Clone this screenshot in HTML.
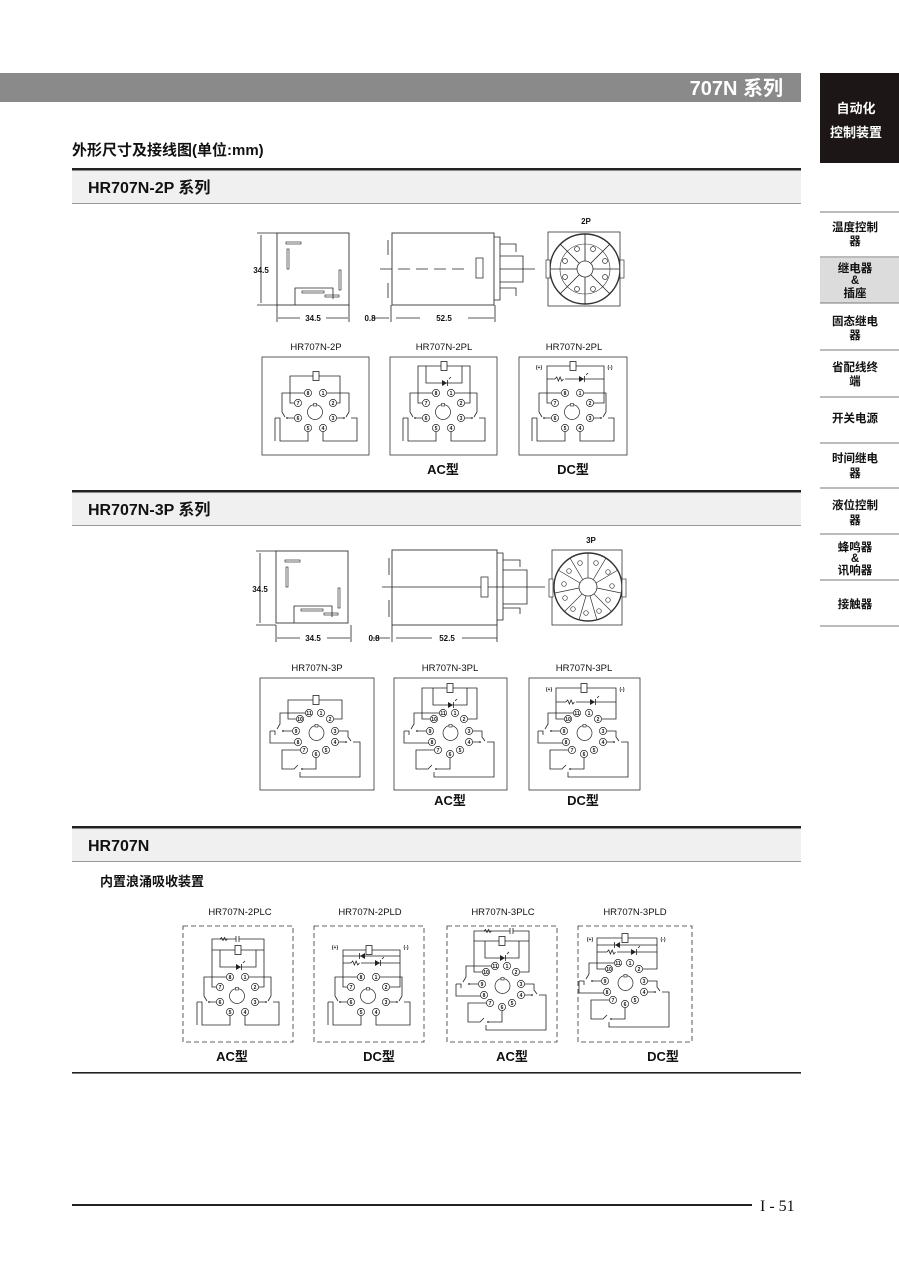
<!DOCTYPE html>
<html><head><meta charset="utf-8">
<style>
html,body{margin:0;padding:0;background:#fff;}
body{width:899px;height:1264px;overflow:hidden;position:relative;font-family:"Liberation Sans","Noto Sans CJK SC",sans-serif;}
svg{position:absolute;left:0;top:0;}
.w{fill:none;stroke:#222;stroke-width:0.8;}
.pc{fill:#fff;stroke:#222;stroke-width:0.7;}
.pn{font-family:"Liberation Sans",sans-serif;font-size:5px;font-weight:bold;text-anchor:middle;fill:#111;}
.lbl{font-family:"Liberation Sans",sans-serif;font-size:9.5px;text-anchor:middle;fill:#111;}
.dim{font-family:"Liberation Sans",sans-serif;font-size:8px;font-weight:bold;text-anchor:middle;fill:#111;}
.ty{font-family:"Liberation Sans","Noto Sans CJK SC",sans-serif;font-size:13px;font-weight:bold;text-anchor:middle;fill:#111;}
.side{font-family:"Liberation Sans","Noto Sans CJK SC",sans-serif;font-size:11.5px;font-weight:bold;text-anchor:middle;fill:#111;}
.box{fill:none;stroke:#333;stroke-width:0.8;}
.dbox{fill:none;stroke:#333;stroke-width:0.8;stroke-dasharray:5,3;}
.pm{font-family:"Liberation Sans",sans-serif;font-size:5px;font-weight:bold;text-anchor:middle;fill:#111;}
</style></head><body>
<svg width="899" height="1264" viewBox="0 0 899 1264" xmlns="http://www.w3.org/2000/svg">
<defs>
 <g id="p8">
  <circle class="pc" cx="53" cy="55" r="7.5"/>
  <rect x="51.5" y="46.5" width="3" height="2.5" fill="#fff" stroke="#222" stroke-width="0.6"/>
  <circle class="pc" cx="46" cy="36" r="3.6"/><circle class="pc" cx="61" cy="36" r="3.6"/>
  <circle class="pc" cx="36" cy="46" r="3.6"/><circle class="pc" cx="71" cy="46" r="3.6"/>
  <circle class="pc" cx="36" cy="61" r="3.6"/><circle class="pc" cx="71" cy="61" r="3.6"/>
  <circle class="pc" cx="46" cy="71" r="3.6"/><circle class="pc" cx="61" cy="71" r="3.6"/>
  <path class="w" d="M42.4,36 H20 V55 M20,55 L23,60 M32.4,61 H25 M13,61 H18 V84 H46 V74.6 M13,61 V84"/>
  <path class="w" d="M64.6,36 H87 V55 M87,55 L84,60 M74.6,61 H82 M89,61 H95 V84 H61 V74.6"/>
  <circle cx="25" cy="61" r="0.9" fill="#222"/><circle cx="82" cy="61" r="0.9" fill="#222"/>
 </g>
 <g id="p11">
  <circle class="pc" cx="54.5" cy="56" r="7.5"/>
  <rect x="53" y="47.5" width="3" height="2.5" fill="#fff" stroke="#222" stroke-width="0.6"/>
  <circle class="pc" cx="47" cy="36" r="3.6"/><circle class="pc" cx="59" cy="36" r="3.6"/>
  <circle class="pc" cx="38" cy="42" r="3.6"/><circle class="pc" cx="68" cy="42" r="3.6"/>
  <circle class="pc" cx="34" cy="54" r="3.6"/><circle class="pc" cx="73" cy="54" r="3.6"/>
  <circle class="pc" cx="36" cy="65" r="3.6"/><circle class="pc" cx="73" cy="65" r="3.6"/>
  <circle class="pc" cx="42" cy="73" r="3.6"/><circle class="pc" cx="64" cy="73" r="3.6"/>
  <circle class="pc" cx="54" cy="77" r="3.6"/>
  <path class="w" d="M43.4,36 H18 V47 L15,52 M30.4,54 H21 M8,54 H13 V58 M8,54 V66 H32.4"/>
  <path class="w" d="M76.6,54 H86 V60 L89,64 M76.6,65 H84 M91,65 H98 V100 H38 V95"/>
  <path class="w" d="M38.4,73 H20 V92 H32 L36,88 M54,80.6 V92 H40"/>
  <circle cx="21" cy="54" r="0.9" fill="#222"/><circle cx="84" cy="65" r="0.9" fill="#222"/><circle cx="40" cy="92" r="0.9" fill="#222"/>
 </g>
 <g id="coilA8"><path class="w" d="M32.4,46 H28 V19 H78 V46 H74.6"/><rect x="51" y="14.5" width="6" height="9" fill="#fff" stroke="#222" stroke-width="0.8"/></g>
 <g id="coilL8"><path class="w" d="M32.4,46 H28 V9 H80 V46 H74.6 M36,9 V26 H72 V9"/><rect x="51" y="4.5" width="6" height="9" fill="#fff" stroke="#222" stroke-width="0.8"/><path d="M52,23 L52,29 L57,26 Z" fill="#222"/><path class="w" d="M57.5,23 V29 M59,22 L61,20"/></g>
 <g id="coilD8"><path class="w" d="M32.4,46 H28 V9 H85 V46 H74.6 M28,22 H85"/><rect x="51" y="4.5" width="6" height="9" fill="#fff" stroke="#222" stroke-width="0.8"/><rect x="36" y="20.5" width="10" height="3" fill="#fff"/><path class="w" d="M36,22 l1.7,-2 l1.7,4 l1.7,-4 l1.7,4 l1.7,-2"/><path d="M60,19 L60,25 L65,22 Z" fill="#222"/><path class="w" d="M65.5,19 V25 M67,18 L69,16"/></g>
 <g id="coilA11"><path class="w" d="M34.4,42 H26 V23 H80 V42 H71.6"/><rect x="51" y="18.5" width="6" height="9" fill="#fff" stroke="#222" stroke-width="0.8"/></g>
 <g id="coilL11"><path class="w" d="M34.4,42 H26 V11 H81 V42 H71.6 M37,11 V28 H71 V11"/><rect x="51" y="6.5" width="6" height="9" fill="#fff" stroke="#222" stroke-width="0.8"/><path d="M52,25 L52,31 L57,28 Z" fill="#222"/><path class="w" d="M57.5,25 V31 M59,24 L61,22"/></g>
 <g id="coilD11"><path class="w" d="M34.4,42 H26 V11 H86 V42 H71.6 M26,25 H86"/><rect x="51" y="6.5" width="6" height="9" fill="#fff" stroke="#222" stroke-width="0.8"/><rect x="36" y="23.5" width="10" height="3" fill="#fff"/><path class="w" d="M36,25 l1.7,-2 l1.7,4 l1.7,-4 l1.7,4 l1.7,-2"/><path d="M60,22 L60,28 L65,25 Z" fill="#222"/><path class="w" d="M65.5,22 V28 M67,21 L69,19"/></g>
 <g id="front">
  <rect x="0" y="0" width="72" height="72" fill="none" stroke="#333" stroke-width="0.9"/>
  <rect x="9" y="9" width="15" height="2" fill="none" stroke="#333" stroke-width="0.7"/>
  <rect x="10" y="16" width="2" height="20" fill="none" stroke="#333" stroke-width="0.7"/>
  <rect x="62" y="37" width="2" height="20" fill="none" stroke="#333" stroke-width="0.7"/>
  <path class="w" d="M18,72 V55 H56 V66"/>
  <rect x="25" y="58" width="22" height="2" fill="none" stroke="#333" stroke-width="0.7"/>
  <rect x="48" y="62" width="14" height="2" fill="none" stroke="#333" stroke-width="0.7"/>
 </g>
</defs>

<rect x="0" y="73" width="801" height="29" fill="#8a8a8a"/>
<text x="783" y="95" font-size="20" font-weight="bold" fill="#fff" text-anchor="end" style="font-family:'Liberation Sans','Noto Sans CJK SC',sans-serif">707N 系列</text>
<rect x="820" y="73" width="79" height="90" fill="#1c1716"/>
<text x="856" y="113" class="side" style="fill:#fff;font-size:13px">自动化</text>
<text x="856" y="137" class="side" style="fill:#fff;font-size:13px">控制装置</text>

<text x="72" y="155" font-size="15" font-weight="bold" fill="#111" style="font-family:'Liberation Sans','Noto Sans CJK SC',sans-serif">外形尺寸及接线图(单位:mm)</text>

<rect x="72" y="170" width="729" height="33" fill="#f0f0f0"/>
<rect x="72" y="168" width="729" height="2.5" fill="#222"/>
<rect x="72" y="203" width="729" height="1" fill="#999"/>
<text x="88" y="193" font-size="16" font-weight="bold" fill="#111" style="font-family:'Liberation Sans','Noto Sans CJK SC',sans-serif">HR707N-2P 系列</text>

<rect x="72" y="492" width="729" height="33" fill="#f0f0f0"/>
<rect x="72" y="490" width="729" height="2.5" fill="#222"/>
<rect x="72" y="525" width="729" height="1" fill="#999"/>
<text x="88" y="515" font-size="16" font-weight="bold" fill="#111" style="font-family:'Liberation Sans','Noto Sans CJK SC',sans-serif">HR707N-3P 系列</text>

<rect x="72" y="828" width="729" height="33" fill="#f0f0f0"/>
<rect x="72" y="826" width="729" height="2.5" fill="#222"/>
<rect x="72" y="861" width="729" height="1" fill="#999"/>
<text x="88" y="851" font-size="16" font-weight="bold" fill="#111" style="font-family:'Liberation Sans','Noto Sans CJK SC',sans-serif">HR707N</text>

<rect x="820" y="258" width="79" height="45" fill="#dcdcdc"/>
<g fill="none" stroke="#777" stroke-width="1">
<path d="M820,212 H899 M820,257 H899 M820,303 H899 M820,350 H899 M820,397 H899 M820,443 H899 M820,488 H899 M820,534 H899 M820,580 H899 M820,626 H899"/>
</g>
<text class="side" x="855" y="231">温度控制</text><text class="side" x="855" y="245">器</text>
<text class="side" x="855" y="272">继电器</text><text class="side" x="855" y="284">&amp;</text><text class="side" x="855" y="297">插座</text>
<text class="side" x="855" y="325">固态继电</text><text class="side" x="855" y="339">器</text>
<text class="side" x="855" y="371">省配线终</text><text class="side" x="855" y="385">端</text>
<text class="side" x="855" y="422">开关电源</text>
<text class="side" x="855" y="462">时间继电</text><text class="side" x="855" y="477">器</text>
<text class="side" x="855" y="509">液位控制</text><text class="side" x="855" y="524">器</text>
<text class="side" x="855" y="551">蜂鸣器</text><text class="side" x="855" y="562">&amp;</text><text class="side" x="855" y="574">讯响器</text>
<text class="side" x="855" y="608">接触器</text>

<use href="#front" x="277" y="233"/>
<path class="w" d="M257,233 H277 M257,305 H277 M261,235 V303 M277,305 V322 M349,305 V322 M278,318 H300 M326,318 H348"/>
<text class="dim" x="261" y="273">34.5</text>
<text class="dim" x="313" y="321">34.5</text>
<rect x="392" y="233" width="102" height="72" fill="none" stroke="#333" stroke-width="0.9"/>
<path class="w" d="M388,240 V255 M388,283 V298 M391,305 V322 M495,305 V322 M380,269 H392 M398,269 H410 M416,269 H428 M434,269 H446 M452,269 H464 M500,269 H535 M494,237 H500 V300 H494"/>
<rect x="476" y="258" width="7" height="20" fill="#fff" stroke="#333" stroke-width="0.8"/>
<path class="w" d="M500,244 H516 V252 M500,256 H523 V282 H500 M500,288 H516 V296"/>
<path class="w" d="M372,318 H389 M396,318 H420 M468,318 H494"/>
<text class="dim" x="370" y="321">0.8</text><text class="dim" x="444" y="321">52.5</text>
<text class="dim" x="586" y="224">2P</text>
<rect x="548" y="232" width="72" height="74" fill="none" stroke="#333" stroke-width="0.8"/>
<circle cx="585" cy="269" r="35" fill="none" stroke="#333" stroke-width="1.4"/>
<circle cx="585" cy="269" r="25" fill="none" stroke="#333" stroke-width="0.6"/>
<circle cx="585" cy="269" r="8" fill="#fff" stroke="#333" stroke-width="0.8"/>
<path class="w" d="M585,234 V261 M585,277 V304 M550,269 H577 M593,269 H620 M560,244 L579,263 M610,244 L591,263 M560,294 L579,275 M610,294 L591,275"/>
<rect x="546" y="260" width="4" height="18" fill="#fff" stroke="#333" stroke-width="0.7"/>
<rect x="620" y="260" width="4" height="18" fill="#fff" stroke="#333" stroke-width="0.7"/>
<g fill="#fff" stroke="#333" stroke-width="0.7"><circle cx="577" cy="249" r="2.5"/><circle cx="593" cy="249" r="2.5"/><circle cx="565" cy="261" r="2.5"/><circle cx="605" cy="261" r="2.5"/><circle cx="565" cy="277" r="2.5"/><circle cx="605" cy="277" r="2.5"/><circle cx="577" cy="289" r="2.5"/><circle cx="593" cy="289" r="2.5"/></g>

<text class="lbl" x="316" y="350">HR707N-2P</text>
<text class="lbl" x="444" y="350">HR707N-2PL</text>
<text class="lbl" x="574" y="350">HR707N-2PL</text>
<rect class="box" x="262" y="357" width="107" height="98"/>
<rect class="box" x="390" y="357" width="107" height="98"/>
<rect class="box" x="519" y="357" width="108" height="98"/>

<g transform="translate(262,357)"><use href="#coilA8"/><use href="#p8"/>
<text class="pn" x="46" y="37.8">8</text><text class="pn" x="61" y="37.8">1</text><text class="pn" x="36" y="47.8">7</text><text class="pn" x="71" y="47.8">2</text><text class="pn" x="36" y="62.8">6</text><text class="pn" x="71" y="62.8">3</text><text class="pn" x="46" y="72.8">5</text><text class="pn" x="61" y="72.8">4</text></g>
<g transform="translate(390,357)"><use href="#coilL8"/><use href="#p8"/>
<text class="pn" x="46" y="37.8">8</text><text class="pn" x="61" y="37.8">1</text><text class="pn" x="36" y="47.8">7</text><text class="pn" x="71" y="47.8">2</text><text class="pn" x="36" y="62.8">6</text><text class="pn" x="71" y="62.8">3</text><text class="pn" x="46" y="72.8">5</text><text class="pn" x="61" y="72.8">4</text></g>
<g transform="translate(519,357)"><use href="#coilD8"/><use href="#p8"/>
<text class="pm" x="20" y="12">(+)</text><text class="pm" x="91" y="12">(-)</text>
<text class="pn" x="46" y="37.8">8</text><text class="pn" x="61" y="37.8">1</text><text class="pn" x="36" y="47.8">7</text><text class="pn" x="71" y="47.8">2</text><text class="pn" x="36" y="62.8">6</text><text class="pn" x="71" y="62.8">3</text><text class="pn" x="46" y="72.8">5</text><text class="pn" x="61" y="72.8">4</text></g>
<text class="ty" x="443" y="474">AC型</text>
<text class="ty" x="573" y="474">DC型</text>

<use href="#front" x="276" y="551"/>
<path class="w" d="M256,551 H276 M256,625 H276 M260,553 V623 M276,625 V642 M351,625 V642 M277,638 H300 M327,638 H350"/>
<text class="dim" x="260" y="592">34.5</text>
<text class="dim" x="313" y="641">34.5</text>
<rect x="392" y="550" width="105" height="75" fill="none" stroke="#333" stroke-width="0.9"/>
<path class="w" d="M389,558 V575 M389,600 V617 M392,625 V642 M497,625 V642 M382,587 H545 M497,553 H503 V620 H497"/>
<rect x="481" y="577" width="7" height="20" fill="#fff" stroke="#333" stroke-width="0.8"/>
<path class="w" d="M503,560 H520 V567 M503,570 H527 V604 H503 M503,608 H520 V614"/>
<path class="w" d="M372,638 H390 M396,638 H432 M462,638 H497"/>
<text class="dim" x="374" y="641">0.8</text><text class="dim" x="447" y="641">52.5</text>
<text class="dim" x="591" y="543">3P</text>
<rect x="552" y="550" width="70" height="75" fill="none" stroke="#333" stroke-width="0.8"/>
<circle cx="588" cy="587" r="34" fill="none" stroke="#333" stroke-width="1.4"/>
<circle cx="588" cy="587" r="9" fill="#fff" stroke="#333" stroke-width="0.8"/>
<g stroke="#333" stroke-width="0.7">
<path d="M588,553 V578 M606,558 L593,580 M618,570 L596,583 M621,593 L597,588 M612,612 L594,594 M597,620 L590,596 M579,620 L586,596 M564,612 L582,594 M555,593 L579,588 M558,570 L580,583 M570,558 L583,580"/>
</g>
<g fill="#fff" stroke="#333" stroke-width="0.7"><circle cx="596" cy="563" r="2.3"/><circle cx="608" cy="572" r="2.3"/><circle cx="612" cy="586" r="2.3"/><circle cx="608" cy="600" r="2.3"/><circle cx="599" cy="611" r="2.3"/><circle cx="586" cy="613" r="2.3"/><circle cx="573" cy="609" r="2.3"/><circle cx="565" cy="598" r="2.3"/><circle cx="564" cy="584" r="2.3"/><circle cx="569" cy="571" r="2.3"/><circle cx="580" cy="563" r="2.3"/></g>
<rect x="549" y="579" width="4" height="18" fill="#fff" stroke="#333" stroke-width="0.7"/>
<rect x="622" y="579" width="4" height="18" fill="#fff" stroke="#333" stroke-width="0.7"/>

<text class="lbl" x="317" y="671">HR707N-3P</text>
<text class="lbl" x="450" y="671">HR707N-3PL</text>
<text class="lbl" x="584" y="671">HR707N-3PL</text>
<rect class="box" x="260" y="678" width="114" height="112"/>
<rect class="box" x="394" y="678" width="113" height="112"/>
<rect class="box" x="529" y="678" width="111" height="112"/>

<g transform="translate(262,677)"><use href="#coilA11"/><use href="#p11"/>
<text class="pn" x="47" y="37.8">11</text><text class="pn" x="59" y="37.8">1</text><text class="pn" x="38" y="43.8">10</text><text class="pn" x="68" y="43.8">2</text><text class="pn" x="34" y="55.8">9</text><text class="pn" x="73" y="55.8">3</text><text class="pn" x="36" y="66.8">8</text><text class="pn" x="73" y="66.8">4</text><text class="pn" x="42" y="74.8">7</text><text class="pn" x="64" y="74.8">5</text><text class="pn" x="54" y="78.8">6</text></g>
<g transform="translate(396,677)"><use href="#coilL11"/><use href="#p11"/>
<text class="pn" x="47" y="37.8">11</text><text class="pn" x="59" y="37.8">1</text><text class="pn" x="38" y="43.8">10</text><text class="pn" x="68" y="43.8">2</text><text class="pn" x="34" y="55.8">9</text><text class="pn" x="73" y="55.8">3</text><text class="pn" x="36" y="66.8">8</text><text class="pn" x="73" y="66.8">4</text><text class="pn" x="42" y="74.8">7</text><text class="pn" x="64" y="74.8">5</text><text class="pn" x="54" y="78.8">6</text></g>
<g transform="translate(530,677)"><use href="#coilD11"/><use href="#p11"/>
<text class="pm" x="19" y="14">(+)</text><text class="pm" x="92" y="14">(-)</text>
<text class="pn" x="47" y="37.8">11</text><text class="pn" x="59" y="37.8">1</text><text class="pn" x="38" y="43.8">10</text><text class="pn" x="68" y="43.8">2</text><text class="pn" x="34" y="55.8">9</text><text class="pn" x="73" y="55.8">3</text><text class="pn" x="36" y="66.8">8</text><text class="pn" x="73" y="66.8">4</text><text class="pn" x="42" y="74.8">7</text><text class="pn" x="64" y="74.8">5</text><text class="pn" x="54" y="78.8">6</text></g>
<text class="ty" x="450" y="805">AC型</text>
<text class="ty" x="583" y="805">DC型</text>

<text x="100" y="886" font-size="13" font-weight="bold" fill="#111" style="font-family:'Liberation Sans','Noto Sans CJK SC',sans-serif">内置浪涌吸收装置</text>
<text class="lbl" x="240" y="915">HR707N-2PLC</text>
<text class="lbl" x="370" y="915">HR707N-2PLD</text>
<text class="lbl" x="503" y="915">HR707N-3PLC</text>
<text class="lbl" x="635" y="915">HR707N-3PLD</text>
<rect class="dbox" x="183" y="926" width="110" height="116"/>
<rect class="dbox" x="314" y="926" width="110" height="116"/>
<rect class="dbox" x="447" y="926" width="110" height="116"/>
<rect class="dbox" x="578" y="926" width="114" height="116"/>

<g transform="translate(184,941)"><use href="#coilL8"/><use href="#p8"/>
<path class="w" d="M28,9 V-2 H80 V9 M36,-2 l1.5,-1.5 l1.5,3 l1.5,-3 l1.5,3 l1.5,-1.5"/><rect x="52" y="-5" width="3" height="6" fill="#fff"/><path class="w" d="M52,-5 V1 M55,-5 V1"/>
<text class="pn" x="46" y="37.8">8</text><text class="pn" x="61" y="37.8">1</text><text class="pn" x="36" y="47.8">7</text><text class="pn" x="71" y="47.8">2</text><text class="pn" x="36" y="62.8">6</text><text class="pn" x="71" y="62.8">3</text><text class="pn" x="46" y="72.8">5</text><text class="pn" x="61" y="72.8">4</text></g>
<g transform="translate(315,941)"><use href="#coilD8"/><use href="#p8"/>
<path class="w" d="M28,15 H85"/><path d="M50,12 L50,18 L45,15 Z" fill="#222"/><path class="w" d="M44.5,12 V18"/>
<text class="pm" x="20" y="8">(+)</text><text class="pm" x="91" y="8">(-)</text>
<text class="pn" x="46" y="37.8">8</text><text class="pn" x="61" y="37.8">1</text><text class="pn" x="36" y="47.8">7</text><text class="pn" x="71" y="47.8">2</text><text class="pn" x="36" y="62.8">6</text><text class="pn" x="71" y="62.8">3</text><text class="pn" x="46" y="72.8">5</text><text class="pn" x="61" y="72.8">4</text></g>
<g transform="translate(448,930)"><use href="#coilL11"/><use href="#p11"/>
<path class="w" d="M26,11 V1 H81 V11 M36,1 l1.5,-1.5 l1.5,3 l1.5,-3 l1.5,3 l1.5,-1.5"/><rect x="62" y="-2" width="3" height="6" fill="#fff"/><path class="w" d="M62,-2 V4 M65,-2 V4"/>
<text class="pn" x="47" y="37.8">11</text><text class="pn" x="59" y="37.8">1</text><text class="pn" x="38" y="43.8">10</text><text class="pn" x="68" y="43.8">2</text><text class="pn" x="34" y="55.8">9</text><text class="pn" x="73" y="55.8">3</text><text class="pn" x="36" y="66.8">8</text><text class="pn" x="73" y="66.8">4</text><text class="pn" x="42" y="74.8">7</text><text class="pn" x="64" y="74.8">5</text><text class="pn" x="54" y="78.8">6</text></g>
<g transform="translate(571,927)"><use href="#coilD11"/><use href="#p11"/>
<path class="w" d="M26,18 H86"/><path d="M49,15 L49,21 L44,18 Z" fill="#222"/><path class="w" d="M43.5,15 V21"/>
<text class="pm" x="19" y="14">(+)</text><text class="pm" x="92" y="14">(-)</text>
<text class="pn" x="47" y="37.8">11</text><text class="pn" x="59" y="37.8">1</text><text class="pn" x="38" y="43.8">10</text><text class="pn" x="68" y="43.8">2</text><text class="pn" x="34" y="55.8">9</text><text class="pn" x="73" y="55.8">3</text><text class="pn" x="36" y="66.8">8</text><text class="pn" x="73" y="66.8">4</text><text class="pn" x="42" y="74.8">7</text><text class="pn" x="64" y="74.8">5</text><text class="pn" x="54" y="78.8">6</text></g>
<text class="ty" x="232" y="1061">AC型</text>
<text class="ty" x="379" y="1061">DC型</text>
<text class="ty" x="512" y="1061">AC型</text>
<text class="ty" x="663" y="1061">DC型</text>

<rect x="72" y="1072" width="729" height="1.6" fill="#222"/>

<rect x="72" y="1204" width="680" height="2" fill="#222"/>
<text x="760" y="1211" font-size="16" fill="#111" style="font-family:'Liberation Serif',serif">I - 51</text>
</svg>
</body></html>
